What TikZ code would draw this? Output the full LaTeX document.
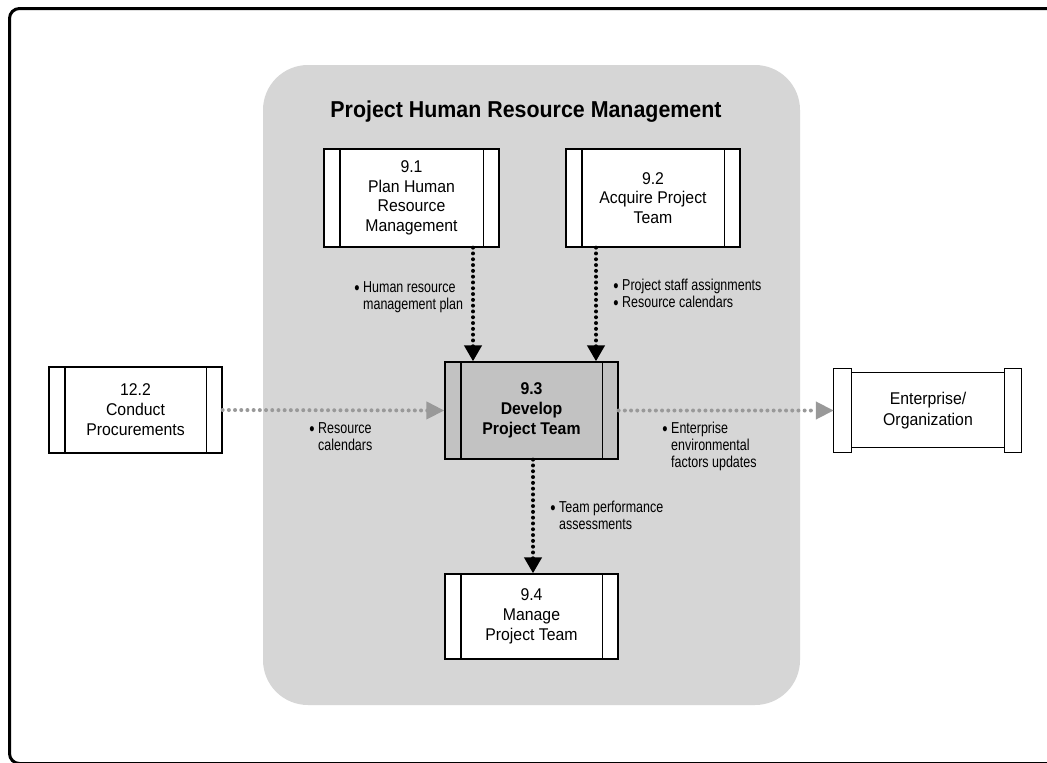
\documentclass[tikz,border=0pt]{standalone}
\usepackage{fontspec}
\setmainfont{Liberation Sans}[FakeStretch=0.93]
\newfontfamily\lblfont{Liberation Sans}[FakeStretch=0.79]
\usetikzlibrary{arrows.meta,calc}
\definecolor{regiongray}{gray}{0.84}
\definecolor{keygray}{gray}{0.76}
\definecolor{arrgray}{gray}{0.6}
\newcommand\procbars[1]{\draw[line width=1.3pt] ([xshift=16.5pt]#1.north west) -- ([xshift=16.5pt]#1.south west) ([xshift=-16.5pt]#1.north east) -- ([xshift=-16.5pt]#1.south east);}
\newcommand\bul{\llap{\smash{\raisebox{-2.3pt}{\fontsize{19}{17}\selectfont\textbullet}}\hspace{3.5pt}}}
\begin{document}
\begin{tikzpicture}[x=1pt,y=-1pt,
 proc/.style={draw, line width=1.3pt, fill=white, align=center, inner sep=0pt, font=\fontsize{17}{19.5}\selectfont},
 blk/.style={draw=black, line width=4pt, dash pattern=on 0pt off 5.8pt, line cap=round, -{Triangle[width=17pt,length=16pt]}},
 gry/.style={draw=arrgray, line width=4pt, dash pattern=on 0pt off 6.2pt, line cap=round, -{Triangle[width=17pt,length=18pt]}},
 lbl/.style={align=left, inner sep=0pt, anchor=base west, font=\lblfont\fontsize{15.8}{17}\selectfont}
]
\useasboundingbox (0,0) rectangle (1047,763);
\fill[white] (0,0) rectangle (1047,763);
% outer frame
\draw[line width=3pt, rounded corners=10pt] (9.5,8.5) rectangle (1075,763.5);
% region
\fill[regiongray, rounded corners=45pt] (263,65) rectangle (800,705);
\node[font=\bfseries\fontsize{23}{26}\selectfont, anchor=base] (title) at (526,117) {Project Human Resource Management};

% process boxes
\node[proc, minimum width=175pt, minimum height=98pt] (p91) at (411.5,198) {9.1\\Plan Human\\Resource\\Management};
\procbars{p91}
\node[proc, minimum width=174pt, minimum height=98pt] (p92) at (653,198) {9.2\\Acquire Project\\Team};
\procbars{p92}
\node[proc, fill=keygray, minimum width=173pt, minimum height=97pt, font=\bfseries\fontsize{17}{20}\selectfont] (p93) at (531.5,410.5) {9.3\\Develop\\Project Team};
\procbars{p93}
\node[proc, minimum width=173pt, minimum height=85pt, font=\fontsize{17}{20}\selectfont] (p94) at (531.5,616.5) {9.4\\Manage\\Project Team};
\procbars{p94}
\node[proc, minimum width=173pt, minimum height=86pt, font=\fontsize{17}{20}\selectfont] (p122) at (135.5,410) {12.2\\Conduct\\Procurements};
\procbars{p122}

% enterprise
\node[inner sep=0pt, minimum width=187pt, minimum height=83pt] (ent) at (927.5,410.5) {};
\fill[white] ([yshift=-4pt]ent.north west) rectangle ([yshift=5pt]ent.south east);
\draw[line width=1.3pt] ([xshift=18pt,yshift=-4pt]ent.north west) -- ([xshift=-17pt,yshift=-4pt]ent.north east)
  ([xshift=18pt,yshift=5pt]ent.south west) -- ([xshift=-17pt,yshift=5pt]ent.south east);
\draw[line width=1.3pt, fill=white] (ent.north west) rectangle ([xshift=18pt]ent.south west);
\draw[line width=1.3pt, fill=white] ([xshift=-17pt]ent.north east) rectangle (ent.south east);
\node[align=center, inner sep=0pt, font=\fontsize{17}{21}\selectfont] (entlabel) at (928,411) {Enterprise/\\Organization};

% connector columns
\coordinate (c1) at (473,0);
\coordinate (c2) at (596,0);
\coordinate (c3) at (533,0);
\draw[blk] (p91.south -| c1) -- (p93.north -| c1);
\draw[blk] (p92.south -| c2) -- (p93.north -| c2);
\draw[blk] (p93.south -| c3) -- (p94.north -| c3);
\draw[gry] (p122.east) -- (p93.west);
\draw[gry] (p93.east) -- (ent.west);

% labels (anchor = baseline of last line)
\node[lbl] (l1) at (363,309) {\bul Human resource\\management plan};
\node[lbl] (l2) at (622,307) {\bul Project staff assignments\\\bul Resource calendars};
\node[lbl] (l3) at (318,450) {\bul Resource\\calendars};
\node[lbl] (l4) at (671,467) {\bul Enterprise\\environmental\\factors updates};
\node[lbl] (l5) at (559,529) {\bul Team performance\\assessments};
\end{tikzpicture}
\end{document}
